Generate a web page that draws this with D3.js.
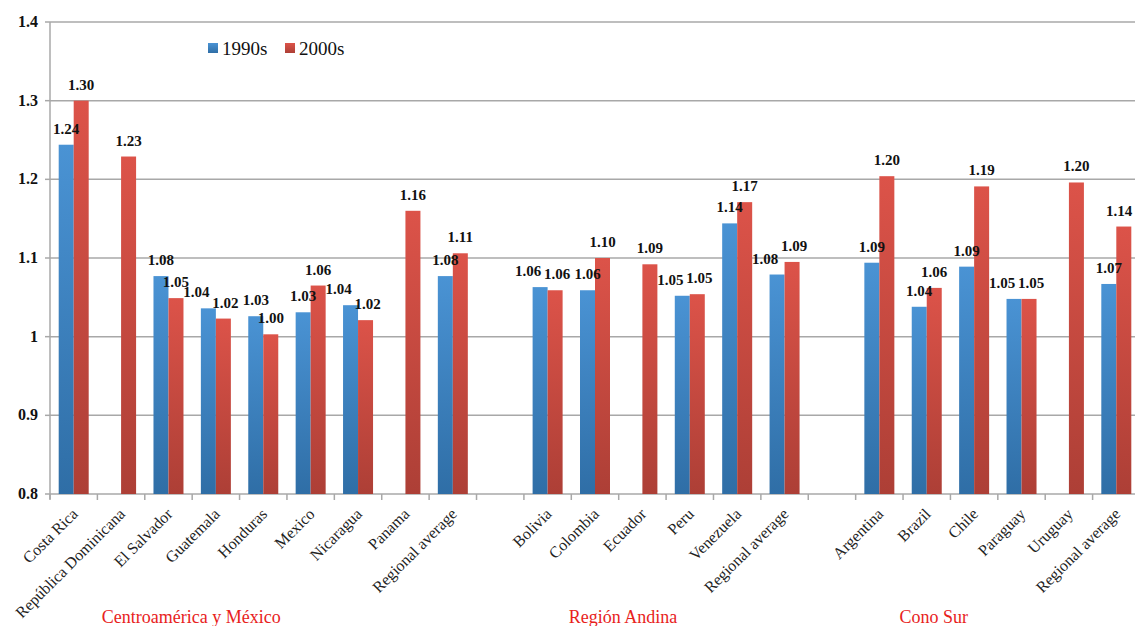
<!DOCTYPE html>
<html lang="en">
<head>
    <meta charset="UTF-8">
    <title>1990s vs 2000s</title>
    <script src="https://d3js.org/d3.v7.min.js"></script>
    <style>
        body { margin: 0; background: #fff; }
        svg text { font-family: "Liberation Serif", "DejaVu Serif", serif; }
        .grid line { stroke: #a8a8a8; stroke-width: 1.5px; }
        .ylab { font-size: 16px; font-weight: bold; fill: #111; }
        .xlab { font-size: 16px; fill: #222; }
        .vlab { font-size: 15px; font-weight: bold; fill: #111; }
        .group { font-size: 18px; fill: #e8221c; }
        .legend text { font-size: 19px; fill: #111; }
    </style>
</head>
<body>
    <svg width="1135" height="626"></svg>
    <script>
        // categories, "" = spacer between regions
        const categories = [
            "Costa Rica", "República Dominicana", "El Salvador", "Guatemala", "Honduras",
            "Mexico", "Nicaragua", "Panama", "Regional average", "",
            "Bolivia", "Colombia", "Ecuador", "Peru", "Venezuela", "Regional average", "",
            "Argentina", "Brazil", "Chile", "Paraguay", "Uruguay", "Regional average"
        ];
        const values1990 = [
            1.244, null, 1.077, 1.036, 1.026, 1.031, 1.040, null, 1.077, null,
            1.063, 1.059, null, 1.052, 1.144, 1.079, null,
            1.094, 1.038, 1.089, 1.048, null, 1.067
        ];
        const values2000 = [
            1.300, 1.229, 1.049, 1.023, 1.003, 1.065, 1.021, 1.160, 1.106, null,
            1.059, 1.100, 1.092, 1.054, 1.171, 1.095, null,
            1.204, 1.062, 1.191, 1.048, 1.196, 1.140
        ];
        const seriesNames = ["1990s", "2000s"];
        const yTicks = [0.8, 0.9, 1, 1.1, 1.2, 1.3, 1.4];
        const groups = ["Centroamérica y México", "Región Andina", "Cono Sur"];
        const groupSpans = [[0, 8], [10, 15], [17, 22]];

        const svg = d3.select("svg");
        const margin = { left: 50, right: -5, top: 22, bottom: 132 };
        const width = 1135, height = 626;

        const x = d3.scaleBand()
            .domain(d3.range(categories.length))
            .range([margin.left, width - margin.right])
            .padding(0);

        const barW = 15;
        const x1 = d3.scaleBand().domain(seriesNames).range([-barW, barW]).padding(0);

        const y = d3.scaleLinear()
            .domain([0.8, 1.4])
            .range([height - margin.bottom, margin.top]);

        // gradients
        const defs = svg.append("defs");
        const grads = [
            { id: "g1990", top: "#4a93d4", bottom: "#2f6ea6" },
            { id: "g2000", top: "#dc5349", bottom: "#ad3f36" }
        ];
        grads.forEach(g => {
            const lg = defs.append("linearGradient").attr("id", g.id)
                .attr("x1", 0).attr("y1", 0).attr("x2", 0).attr("y2", 1);
            lg.append("stop").attr("offset", "0%").attr("stop-color", g.top);
            lg.append("stop").attr("offset", "100%").attr("stop-color", g.bottom);
        });
        const fills = { "1990s": "url(#g1990)", "2000s": "url(#g2000)" };

        // gridlines
        svg.append("g").attr("class", "grid")
            .selectAll("line")
            .data(yTicks)
            .enter().append("line")
            .attr("x1", margin.left)
            .attr("x2", width)
            .attr("y1", d => y(d))
            .attr("y2", d => y(d));

        // y axis line + labels
        svg.append("line")
            .attr("x1", margin.left).attr("x2", margin.left)
            .attr("y1", y(1.4)).attr("y2", y(0.8) + 5)
            .attr("stroke", "#a8a8a8").attr("stroke-width", 1.5);

        svg.append("g").selectAll("line")
            .data(yTicks)
            .enter().append("line")
            .attr("x1", margin.left - 5).attr("x2", margin.left)
            .attr("y1", d => y(d)).attr("y2", d => y(d))
            .attr("stroke", "#a8a8a8").attr("stroke-width", 1.5);

        svg.append("g").selectAll("text")
            .data(yTicks)
            .enter().append("text")
            .attr("class", "ylab")
            .attr("x", 38)
            .attr("y", d => y(d) + 5)
            .attr("text-anchor", "end")
            .text(d => d === 1 ? "1" : d.toFixed(1));

        // x tick marks
        svg.append("g").selectAll("line")
            .data(d3.range(categories.length + 1))
            .enter().append("line")
            .attr("x1", i => margin.left + i * x.bandwidth())
            .attr("x2", i => margin.left + i * x.bandwidth())
            .attr("y1", y(0.8))
            .attr("y2", y(0.8) + 6)
            .attr("stroke", "#a8a8a8").attr("stroke-width", 1.5);

        // bars
        const rows = categories.map((c, i) => {
            const vals = [
                { s: "1990s", v: values1990[i] },
                { s: "2000s", v: values2000[i] }
            ].filter(d => d.v != null);
            // labels at nearly the same height: nudge the 1990s one to the left
            vals.forEach(d => d.dx = 0);
            if (vals.length === 2 && Math.abs(y(vals[0].v) - y(vals[1].v)) < 17) {
                vals[0].dx = -12;
                vals[1].dx = 2;
            }
            return { i, name: c, vals };
        });

        const cat = svg.append("g").selectAll("g")
            .data(rows)
            .enter().append("g")
            .attr("transform", d => `translate(${x(d.i) + x.bandwidth() / 2},0)`);

        cat.selectAll("rect")
            .data(d => d.vals)
            .enter().append("rect")
            .attr("x", d => x1(d.s))
            .attr("width", x1.bandwidth())
            .attr("y", d => y(d.v))
            .attr("height", d => y(0.8) - y(d.v))
            .attr("fill", d => fills[d.s]);

        cat.each(function (row) {
            const cx = x(row.i) + x.bandwidth() / 2;
            d3.select(this).selectAll("text.vlab")
                .data(row.vals)
                .enter().append("text")
                .attr("class", "vlab")
                .attr("x", d => Math.min(x1(d.s) + x1.bandwidth() / 2 + d.dx, width - 16 - cx))
                .attr("y", d => y(d.v) - 11)
                .attr("text-anchor", "middle")
                .text(d => d.v.toFixed(2));
        });

        // x labels
        svg.append("g").selectAll("text")
            .data(rows.filter(d => d.name !== ""))
            .enter().append("text")
            .attr("class", "xlab")
            .attr("text-anchor", "end")
            .attr("transform", d => `translate(${x(d.i) + x.bandwidth() / 2 + 5},${y(0.8) + 21}) rotate(-45)`)
            .text(d => d.name);

        // group labels, sit a bit left of their span centre
        const groupShift = [-72, -43, -64];
        svg.append("g").selectAll("text")
            .data(groups)
            .enter().append("text")
            .attr("class", "group")
            .attr("text-anchor", "middle")
            .attr("x", (g, k) => (x(groupSpans[k][0]) + x(groupSpans[k][1]) + x.bandwidth()) / 2 + groupShift[k])
            .attr("y", 623)
            .text(g => g);

        // legend
        const legend = svg.append("g").attr("class", "legend")
            .attr("transform", "translate(208,43)");
        const li = legend.selectAll("g")
            .data(seriesNames)
            .enter().append("g")
            .attr("transform", (d, k) => `translate(${k * 77},0)`);
        li.append("rect").attr("width", 10).attr("height", 10)
            .attr("fill", d => fills[d]);
        li.append("text").attr("x", 14).attr("y", 12).text(d => d);
    </script>
</body>
</html>
